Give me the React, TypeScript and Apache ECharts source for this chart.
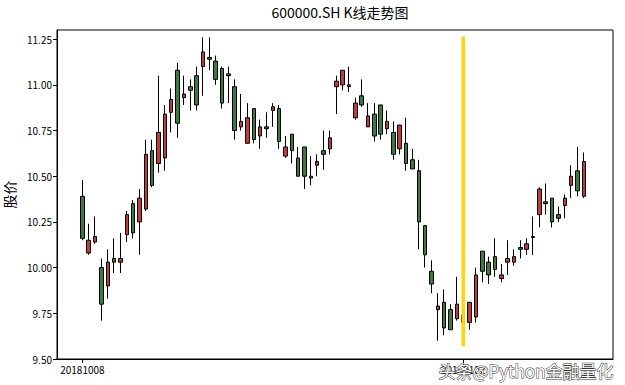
import React, { useEffect, useRef } from "react";
import * as echarts from "echarts";

const dates = [
  "20181008","20181009","20181010","20181011","20181012","20181015","20181016","20181017","20181018","20181019",
  "20181022","20181023","20181024","20181025","20181026","20181029","20181030","20181031","20181101","20181102",
  "20181105","20181106","20181107","20181108","20181109","20181112","20181113","20181114","20181115","20181116",
  "20181119","20181120","20181121","20181122","20181123","20181126","20181127","20181128","20181129","20181130",
  "20181203","20181204","20181205","20181206","20181207","20181210","20181211","20181212","20181213","20181214",
  "20181217","20181218","20181219","20181220","20181221","20181224","20181225","20181226","20181227","20181228",
  "20190102","20190103","20190104","20190107","20190108","20190109","20190110","20190111","20190114","20190115",
  "20190116","20190117","20190118","20190121","20190122","20190123","20190124","20190125","20190128","20190129",
];

const opens = [
  10.39,10.08,10.14,10.00,9.90,10.05,10.03,10.18,10.35,10.25,
  10.32,10.64,10.57,10.60,10.85,11.08,10.93,10.99,11.05,11.10,
  11.15,11.13,11.09,11.05,10.99,10.77,10.68,10.87,10.72,10.77,
  10.86,10.87,10.61,10.73,10.60,10.66,10.50,10.56,10.64,10.65,
  10.99,11.00,10.99,10.82,10.94,10.77,10.84,10.89,10.76,10.74,
  10.65,10.68,10.59,10.53,10.23,9.98,9.77,9.81,9.77,9.72,
  9.74,9.70,9.73,10.09,10.03,10.06,9.94,10.03,10.03,10.11,
  10.10,10.17,10.29,10.36,10.38,10.29,10.34,10.45,10.53,10.39,
];
const closes = [
  10.16,10.15,10.17,9.80,10.03,10.03,10.05,10.29,10.19,10.38,
  10.62,10.45,10.74,10.84,10.92,10.79,10.95,10.97,10.89,11.18,
  11.14,11.03,10.90,11.06,10.75,10.80,10.82,10.70,10.77,10.76,
  10.88,10.69,10.66,10.64,10.50,10.50,10.49,10.58,10.62,10.71,
  11.02,11.08,11.00,10.90,10.89,10.83,10.72,10.73,10.80,10.62,
  10.78,10.57,10.54,10.25,10.07,9.91,9.79,9.67,9.66,9.80,
  9.70,9.81,9.96,9.98,9.96,9.99,9.96,10.05,10.06,10.10,
  10.13,10.165,10.43,10.35,10.25,10.27,10.38,10.50,10.42,10.58,
];
const lows = [
  10.15,10.07,10.13,9.71,9.83,9.97,9.97,10.14,10.16,10.07,
  10.31,10.44,10.52,10.53,10.74,10.71,10.89,10.86,10.86,10.94,
  11.08,11.00,10.87,10.90,10.70,10.75,10.68,10.68,10.65,10.71,
  10.77,10.65,10.60,10.57,10.50,10.43,10.45,10.50,10.535,10.62,
  10.84,10.97,10.96,10.81,10.88,10.77,10.69,10.70,10.73,10.59,
  10.62,10.53,10.54,10.10,10.00,9.86,9.60,9.63,9.66,9.71,
  9.69,9.66,9.70,9.92,9.91,9.95,9.92,9.96,10.01,10.05,
  10.07,10.07,10.22,10.29,10.22,10.25,10.27,10.38,10.39,10.38,
];
const highs = [
  10.48,10.24,10.28,10.05,10.10,10.16,10.19,10.31,10.37,10.43,
  10.70,10.70,11.05,10.89,10.98,11.12,11.05,11.03,11.10,11.26,
  11.26,11.16,11.10,11.10,11.03,10.95,10.90,10.87,10.81,10.85,
  10.90,10.89,10.72,10.73,10.66,10.66,10.61,10.62,10.75,10.75,
  11.05,11.08,11.10,10.93,11.03,10.90,10.90,10.89,10.86,10.80,
  10.78,10.82,10.65,10.59,10.23,10.04,9.86,9.88,9.80,9.95,
  9.75,9.81,10.00,10.09,10.06,10.16,10.02,10.15,10.10,10.15,
  10.16,10.28,10.44,10.46,10.38,10.335,10.40,10.56,10.66,10.63,
];

const yTicks = [9.5, 9.75, 10.0, 10.25, 10.5, 10.75, 11.0, 11.25];
const xTickIndices = [0, 60];
const markIndex = 60;
const markRange = [9.57, 11.265];

const FONT = '"Noto Sans CJK SC", "Noto Sans", sans-serif';

export default function App() {
  const ref = useRef<HTMLDivElement>(null);
  useEffect(() => {
    if (!ref.current) return;
    const chart = echarts.init(ref.current, undefined, { renderer: "svg" });
    const candles = dates.map((_, i) => [i, opens[i], closes[i], lows[i], highs[i]]);
    chart.setOption({
      animation: false,
      backgroundColor: "#ffffff",
      title: {
        text: "600000.SH K线走势图",
        left: 335,
        textAlign: "center",
        top: 0,
        textStyle: { fontFamily: FONT, fontSize: 14, fontWeight: "normal", color: "#000" },
      },
      grid: {
        left: 57,
        right: 12,
        top: 30,
        bottom: 26,
        containLabel: false,
        outerBoundsMode: "none",
        show: true,
        borderColor: "#000",
        borderWidth: 1,
        backgroundColor: "#fff",
      },
      xAxis: {
        type: "value",
        min: -4,
        max: 83.6,
        splitLine: { show: false },
        axisLine: { show: true, onZero: false, lineStyle: { color: "#000", width: 1 } },
        axisTick: { show: true, length: 4, customValues: xTickIndices, lineStyle: { color: "#000" } },
        axisLabel: {
          customValues: xTickIndices,
          formatter: (v: number) => dates[Math.round(v)] ?? "",
          fontFamily: FONT,
          fontSize: 10,
          color: "#000",
          margin: 5,
        },
      },
      yAxis: {
        type: "value",
        min: 9.5,
        max: 11.3,
        interval: 0.25,
        name: "股价",
        nameLocation: "middle",
        nameGap: 33,
        nameRotate: 90,
        nameTextStyle: { fontFamily: FONT, fontSize: 14, color: "#000" },
        splitLine: { show: false },
        axisLine: { show: true, onZero: false, lineStyle: { color: "#000", width: 1 } },
        axisTick: { show: true, length: 4, customValues: yTicks, lineStyle: { color: "#000" } },
        axisLabel: {
          customValues: yTicks,
          formatter: (v: number) => v.toFixed(2),
          fontFamily: FONT,
          fontSize: 10,
          color: "#000",
          margin: 5,
        },
      },
      series: [
        {
          type: "candlestick",
          data: candles,
          barWidth: 4,
          itemStyle: {
            color: "#c23b3b",
            color0: "#3d7a3d",
            borderColor: "#000",
            borderColor0: "#000",
            borderColorDoji: "#000",
            borderWidth: 1,
          },
        },
        {
          type: "line",
          data: [
            [markIndex, markRange[0]],
            [markIndex, markRange[1]],
          ],
          symbol: "none",
          lineStyle: { color: "#FFD700", width: 3.5 },
          z: 5,
        },
      ],
      graphic: [
        {
          type: "text",
          right: 11,
          top: 361,
          z: 100,
          style: {
            text: "头条@Python金融量化",
            font: '17px "Noto Sans CJK SC", sans-serif',
            fill: "#ffffff",
            stroke: "#333333",
            lineWidth: 1,
          },
        },
      ],
    });
    return () => chart.dispose();
  }, []);
  return (
    <div
      ref={ref}
      style={{ position: "fixed", left: 0, top: 0, width: 625, height: 385 }}
    />
  );
}
